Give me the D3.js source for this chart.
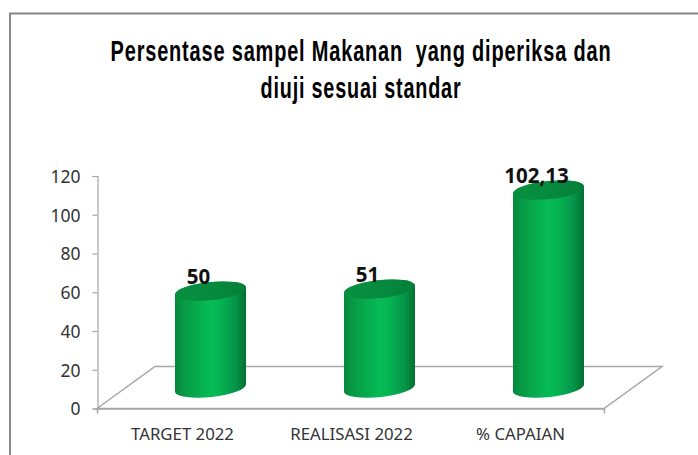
<!DOCTYPE html>
<html><head><meta charset="utf-8">
<script src="https://cdn.jsdelivr.net/npm/d3@7"></script>
<style>html,body{margin:0;padding:0;background:#fff}svg{display:block}</style>
</head><body><svg id="c" width="698" height="455"></svg>
<script>
const categories = ["TARGET 2022", "REALISASI 2022", "% CAPAIAN"];
const values = [50, 51, 102.13];
const valueLabels = ["50", "51", "102,13"];
const yTicks = [0, 20, 40, 60, 80, 100, 120];
const titleLines = ["Persentase sampel Makanan  yang diperiksa dan", "diuji sesuai standar"];
const titleWidths = [501, 201];

const svg = d3.select("#c");
const W = 698, H = 455;
const axisX = 97, y0 = 408.5, y120 = 176;
const depthX = 58, depthY = 42;
const floorW = 507;
const y = d3.scaleLinear().domain([0, 120]).range([y0, y120]);
const x = d3.scaleBand().domain(categories).range([axisX, axisX + floorW]);
const bw = 71, ry = 9, shear = 0.11;
const baseOff = 20.5;

const defs = svg.append("defs");
const grad = defs.append("linearGradient").attr("id", "cyl");
[[0,"#06873b"],[0.12,"#079a45"],[0.5,"#06bb56"],[0.62,"#06b552"],[0.85,"#05954a"],[1,"#04702f"]]
 .forEach(d => grad.append("stop").attr("offset", d[0]).attr("stop-color", d[1]));
const capGrad = defs.append("linearGradient").attr("id", "capg");
[[0,"#07903f"],[0.5,"#068a3e"],[1,"#057f38"]]
 .forEach(d => capGrad.append("stop").attr("offset", d[0]).attr("stop-color", d[1]));

// chart frame: left and top edges only, running off the picture
svg.append("path").attr("d", `M10 ${H+2}V13.5H${W+2}`).attr("fill","none").attr("stroke","#868686").attr("stroke-width",2);

// floor
const g = "#a6a6a6";
svg.append("path")
  .attr("d", `M${axisX} ${y0}L${axisX+depthX} ${y0-depthY}H${axisX+depthX+floorW}L${axisX+floorW} ${y0}Z`)
  .attr("fill","#fff").attr("stroke",g).attr("stroke-width",1.5);

// axes
const yAxis = d3.axisLeft(y).tickValues(yTicks).tickSize(5).tickPadding(12);
const ya = svg.append("g").attr("transform",`translate(${axisX+0.5},0)`).call(yAxis);
ya.select(".domain").attr("stroke",g).attr("stroke-width",1.2);
ya.selectAll("line").attr("stroke",g).attr("stroke-width",1.2);
ya.selectAll("text").attr("fill","#333").attr("font-family","'Noto Sans','Open Sans',sans-serif").attr("font-size",17.5).attr("dy","0.37em");

const xAxis = d3.axisBottom(x).tickValues([]).tickSizeOuter(5);
const xa = svg.append("g").attr("transform",`translate(0,${y0})`).call(xAxis);
xa.select(".domain").attr("stroke",g).attr("stroke-width",1.5);

// cylinders
const bars = svg.append("g").selectAll("g").data(categories.map((c,i)=>({c,v:values[i],l:valueLabels[i]}))).join("g");
const cx = d => x(d.c) + x.bandwidth()/2 + 29;
const cyl = (d) => {
  const l = cx(d)-bw/2, r = cx(d)+bw/2, b = y(0)-baseOff, t = y(d.v)-baseOff;
  const s = bw/2*shear;
  return `M${l} ${t+s}A${bw/2} ${ry} -6 0 1 ${r} ${t-s}V${b-s}A${bw/2} ${ry} -6 0 1 ${l} ${b+s}Z`;
};
const cap = (d) => {
  const l = cx(d)-bw/2, r = cx(d)+bw/2, t = y(d.v)-baseOff;
  const s = bw/2*shear;
  return `M${l} ${t+s}A${bw/2} ${ry} -6 0 1 ${r} ${t-s}A${bw/2} ${ry} -6 0 1 ${l} ${t+s}Z`;
};
bars.append("path").attr("d",cyl).attr("fill","url(#cyl)");
bars.append("path").attr("d",cap).attr("fill","url(#capg)");
bars.append("text").attr("x",d=>cx(d)-12).attr("y",d=>y(d.v)-baseOff-7.5)
  .attr("text-anchor","middle").attr("font-family","'Open Sans','Noto Sans',sans-serif").attr("font-weight",700).attr("font-size",20.5).attr("fill","#111").text(d=>d.l);

// category labels
svg.append("g").selectAll("text").data(categories).join("text")
  .attr("x",d=>x(d)+x.bandwidth()/2+1).attr("y",440)
  .attr("text-anchor","middle").attr("font-family","'Noto Sans','Open Sans',sans-serif").attr("font-size",16.8).attr("fill","#333").text(d=>d);

// title: tall condensed look, squeezed horizontally to the measured line widths
svg.append("g").selectAll("text").data(titleLines).join("text")
  .attr("text-anchor","middle")
  .attr("font-family","'Liberation Sans',sans-serif").attr("font-weight",700).attr("font-size",29.5).attr("fill","#000")
  .style("white-space","pre").style("letter-spacing","1.2px").text(d=>d)
  .attr("transform",function(d,i){
    const k = titleWidths[i]/this.getComputedTextLength();
    return `translate(361,${61+i*37}) scale(${k},1)`;
  });
</script></body></html>
